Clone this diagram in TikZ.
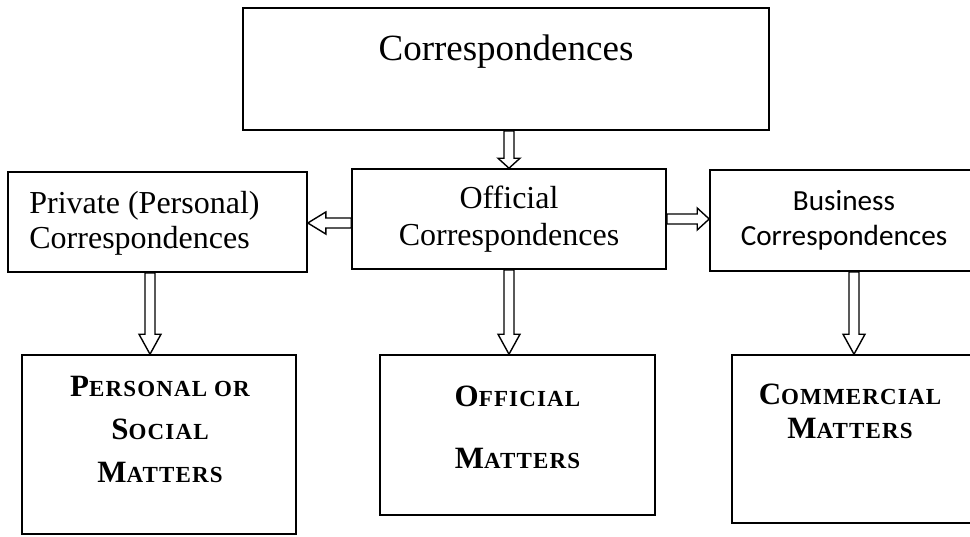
\documentclass[tikz,border=0pt]{standalone}
\usepackage{fontspec}
\setmainfont{Liberation Serif}
\newfontfamily\calibri{Carlito}
\usetikzlibrary{positioning, calc}
% small caps by hand: big first letter, smaller rest
\newcommand\smc[2]{#1{\fontsize{11.5}{0}\selectfont #2}}
\tikzset{
	box/.style   ={rectangle, draw=black, line width=0.8pt, align=center, inner sep=0pt},
	lbl/.style   ={inner sep=0pt, align=center},
	mat/.style   ={inner sep=0pt, align=center, font=\bfseries\fontsize{15.5}{21.5}\selectfont\addfontfeature{LetterSpace=5}},
	headlen/.store in=\headlen, headlen=9.5pt,
	% hollow block arrow between two points
	hollow/.style={draw=black, fill=white, line width=0.7pt, to path={
		($(\tikztostart)!2.5pt!90:(\tikztotarget)$)
		-- ($($(\tikztotarget)!\headlen!(\tikztostart)$)!2.5pt!-90:(\tikztostart)$)
		-- ($($(\tikztotarget)!\headlen!(\tikztostart)$)!5.5pt!-90:(\tikztostart)$)
		-- (\tikztotarget)
		-- ($($(\tikztotarget)!\headlen!(\tikztostart)$)!5.5pt!90:(\tikztostart)$)
		-- ($($(\tikztotarget)!\headlen!(\tikztostart)$)!2.5pt!90:(\tikztostart)$)
		-- ($(\tikztostart)!2.5pt!-90:(\tikztotarget)$)
		-- cycle}},
}
\begin{document}
\begin{tikzpicture}[x=0.5pt, y=-0.5pt]
	\useasboundingbox (0,0) rectangle (970,536);
	\clip (0,0) rectangle (970,536);
	% top level
	\node[box, minimum width=263pt, minimum height=61pt] (top) at (506,69) {};
	\node[lbl, anchor=base, font=\fontsize{18.5}{22}\selectfont] (toptxt) at (506,60) {Correspondences};
	% middle row
	\node[box, minimum width=149.5pt, minimum height=50pt] (priv) at (157.5,222) {};
	\node[lbl, align=left, anchor=west, font=\fontsize{16}{17.5}\selectfont] (privtxt) at (29,223) {Private (Personal)\\Correspondences};
	\node[box, minimum width=157pt, minimum height=50pt, font=\fontsize{16}{18.5}\selectfont] (off) at (509,219) {Official\\Correspondences};
	\node[box, minimum width=134pt, minimum height=50.5pt, font=\calibri\fontsize{14.6}{17.5}\selectfont] (bus) at (844,220.5) {Business\\Correspondences};
	% bottom row
	\node[box, minimum width=137pt, minimum height=89.5pt] (pers) at (159,444.5) {};
	\node[mat, anchor=north] (perstxt) at (160,376) {\smc{P}{ERSONAL OR}\\\smc{S}{OCIAL}\\\smc{M}{ATTERS}};
	\node[box, minimum width=137.5pt, minimum height=80pt] (offm) at (517.5,435) {};
	\node[mat, anchor=north] (offmtxt) at (517.5,386) {\smc{O}{FFICIAL}\\[9.5pt]\smc{M}{ATTERS}};
	\node[box, minimum width=121.5pt, minimum height=84pt] (comm) at (853.5,439) {};
	\node[mat, anchor=north] (commtxt) at (850,384) {\smc{C}{OMMERCIAL}\\[-4.5pt]\smc{M}{ATTERS}};
	% arrows
	\coordinate (la) at ([yshift=-2pt]off.west);
	\coordinate (pd) at ([xshift=-3.75pt]priv.south);
	\coordinate (bd) at ([xshift=5pt]bus.south);
	\draw[hollow, headlen=5pt] (top.south -| off.north) to (off.north);
	\draw[hollow, headlen=9pt] (la) to (la -| priv.east);
	\draw[hollow, headlen=6pt] (off.east) to (off.east -| bus.west);
	\draw[hollow, headlen=10pt] (pd) to (pd |- pers.north);
	\draw[hollow, headlen=10pt] (off.south) to (off.south |- offm.north);
	\draw[hollow, headlen=10pt] (bd) to (bd |- comm.north);
\end{tikzpicture}
\end{document}
